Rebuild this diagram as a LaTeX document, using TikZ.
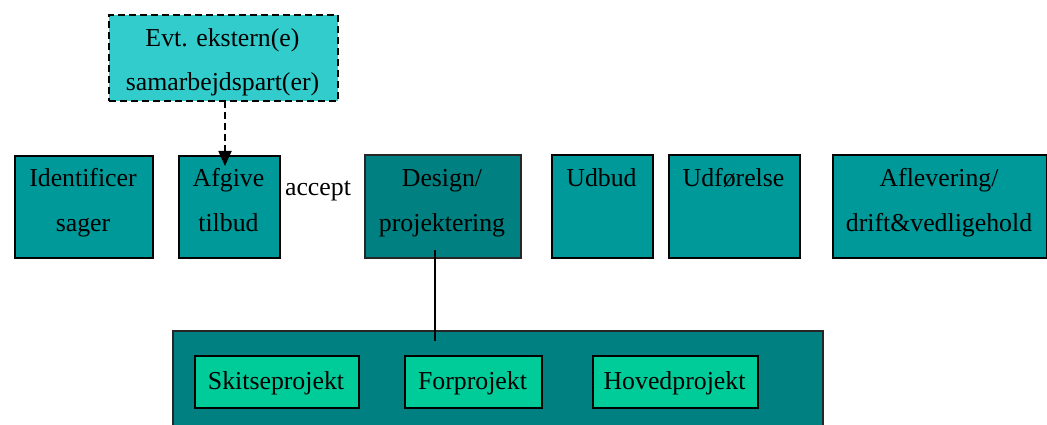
\documentclass[tikz,border=0pt]{standalone}
\usepackage{fontspec}
\setmainfont{Liberation Serif}
\usetikzlibrary{arrows.meta}
\definecolor{tealA}{HTML}{009999}
\definecolor{tealB}{HTML}{008080}
\definecolor{tealC}{HTML}{00CC99}
\definecolor{tealD}{HTML}{33CCCC}
\begin{document}
\begin{tikzpicture}[x=1pt,y=1pt,
  box/.style={draw=black, line width=2pt, fill=tealA, anchor=north west, inner sep=0pt},
  darkbox/.style={draw=black!85, line width=1.6pt, fill=tealB, anchor=north west, inner sep=0pt},
  subbox/.style={draw=black, line width=2pt, fill=tealC, anchor=north west, inner sep=0pt},
  extbox/.style={draw=black, line width=1.8pt, dash pattern=on 7pt off 4pt, fill=tealD, anchor=north west, inner sep=0pt},
  txt/.style={anchor=base, inner sep=0pt, font=\fontsize{25.8}{30}\selectfont}]
\useasboundingbox[clip] (0,0) rectangle (1047,-425);
\fill[white] (0,0) rectangle (1047,-425);
% external partner
\node[extbox, minimum width=229, minimum height=86] (ext) at (108,-14) {};
\node[txt] (ext1) at (222.5,-47) {Evt. ekstern(e)};
\node[txt] (ext2) at (222.5,-91) {samarbejdspart(er)};
% main row
\node[box, minimum width=138, minimum height=102] (ident) at (14,-155) {};
\node[txt] (identA) at (83,-186) {Identificer};
\node[txt] (identB) at (83,-231) {sager};
\node[box, minimum width=101, minimum height=102] (afg) at (178,-155) {};
\node[txt] (afgA) at (228.5,-186) {Afgive};
\node[txt] (afgB) at (228.5,-231) {tilbud};
\node[txt] (acc) at (318,-195) {accept};
\node[darkbox, minimum width=156, minimum height=103] (des) at (364,-154) {};
\node[txt] (desA) at (442,-186) {Design/};
\node[txt] (desB) at (442,-231) {projektering};
\node[box, minimum width=101, minimum height=103] (udb) at (551,-154) {};
\node[txt] (udbA) at (601.5,-186) {Udbud};
\node[box, minimum width=131, minimum height=103] (udf) at (668,-154) {};
\node[txt] (udfA) at (733.5,-186) {Udførelse};
\node[box, minimum width=214, minimum height=103] (afl) at (832,-154) {};
\node[txt] (aflA) at (939,-186) {Aflevering/};
\node[txt] (aflB) at (939,-231) {drift\&vedligehold};
% big sub-phase box
\node[darkbox, minimum width=650, minimum height=110] (big) at (172,-330) {};
\node[subbox, minimum width=164, minimum height=52] (skit) at (194,-355) {};
\node[txt] (skitA) at (276,-389) {Skitseprojekt};
\node[subbox, minimum width=137, minimum height=52] (forp) at (404,-355) {};
\node[txt] (forpA) at (472.5,-389) {Forprojekt};
\node[subbox, minimum width=165, minimum height=52] (hov) at (592,-355) {};
\node[txt] (hovA) at (674.5,-389) {Hovedprojekt};
% connectors
\coordinate (dA) at (435,-250);
\coordinate (dB) at (435,-341);
\draw[line width=1.8pt] (dA) -- (dB);
\coordinate (eA) at (225,-101);
\coordinate (eB) at (225,-166);
\draw[line width=1.8pt, dash pattern=on 7pt off 4pt, -{Triangle[length=15pt,width=13pt]}] (eA) -- (eB);
\end{tikzpicture}
\end{document}
